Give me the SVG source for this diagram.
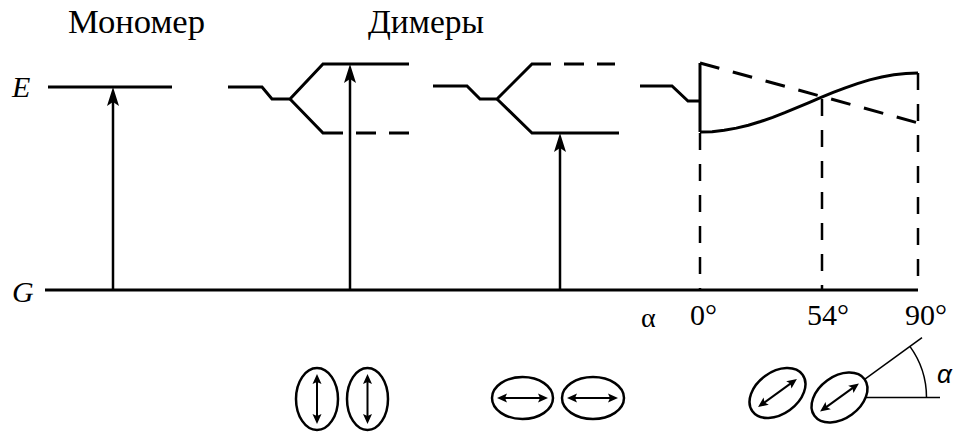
<svg xmlns="http://www.w3.org/2000/svg" width="955" height="434" viewBox="0 0 955 434">
<style>
.lv{fill:none;stroke:#000;stroke-width:3;stroke-linecap:butt;stroke-linejoin:miter}
.dv{fill:none;stroke:#000;stroke-width:2.5;stroke-dasharray:17 14}
.dd{fill:none;stroke:#000;stroke-width:3;stroke-dasharray:20 14}
.ar{stroke:#000;stroke-width:2.5;marker-end:url(#ah)}
.t{font-family:"Liberation Serif","DejaVu Serif","Times New Roman",serif;fill:#000}
.el{fill:none;stroke:#000;stroke-width:2.5}
.da{stroke:#000;stroke-width:2;marker-start:url(#sh);marker-end:url(#sh)}
.thin{fill:none;stroke:#000;stroke-width:1.5}
</style>
<defs>
<marker id="ah" viewBox="-20 -7 20 14" refX="-10" refY="0" markerWidth="20" markerHeight="14" markerUnits="userSpaceOnUse" orient="auto"><path d="M0,0 L-19,-6 L-15,0 L-19,6Z" fill="#000"/></marker>
<marker id="sh" viewBox="-11 -5 11 10" refX="-5" refY="0" markerWidth="11" markerHeight="10" markerUnits="userSpaceOnUse" orient="auto-start-reverse"><path d="M0,0 L-10,-4.5 L-8,0 L-10,4.5Z" fill="#000"/></marker>
</defs>

<g id="labels">
<text class="t" x="68" y="33" font-size="33" textLength="137" lengthAdjust="spacingAndGlyphs">Мономер</text>
<text class="t" x="368" y="33" font-size="33" textLength="116" lengthAdjust="spacingAndGlyphs">Димеры</text>
<text class="t" x="12" y="97" font-size="30" font-style="italic">E</text>
<text class="t" x="12" y="302" font-size="30" font-style="italic">G</text>
<text class="t" x="641" y="327" font-size="28">α</text>
<text class="t" x="690" y="325" font-size="30">0°</text>
<text class="t" x="807" y="325" font-size="30">54°</text>
<text class="t" x="905" y="325" font-size="30">90°</text>
</g>

<g id="ground">
<path class="lv" d="M45,290 H918"/>
</g>

<g id="monomer">
<path class="lv" d="M48,87 H172"/>
</g>

<g id="dimer-parallel">
<path class="lv" d="M228,87 H262 L272,99 H290 L323,64 H409"/>
<path class="lv" d="M290,99 L323,133 H343 M356,133 H376 M389,133 H409"/>
</g>

<g id="dimer-inline">
<path class="lv" d="M433,86 H467 L480,99 H497 L532,64 H551 M564,64 H584 M597,64 H615"/>
<path class="lv" d="M497,99 L532,133 H619"/>
</g>

<g id="dimer-oblique">
<path class="lv" d="M640,86 H672 L688,101 H700"/>
<path class="lv" d="M700,63 V132"/>
<path class="dd" d="M700,63 L922,124"/>
<path class="lv" stroke-linejoin="round" d="M700,132.1 L712.1,131.65 L724.2,130.3 L736.3,128.14 L748.4,125.2 L760.6,121.54 L772.7,117.3 L784.8,112.66 L796.9,107.7 L809,102.55 L821.1,97.4 L833.2,92.44 L845.3,87.8 L857.4,83.56 L869.6,79.9 L881.7,76.96 L893.8,74.8 L905.9,73.45 L918,73"/>
<path class="dv" d="M700,133 V290"/>
<path class="dv" d="M822,99 V290"/>
<path class="dv" d="M918,73 V290"/>
</g>

<g id="connectors">
<line class="ar" x1="113" y1="290" x2="113" y2="97"/>
<line class="ar" x1="350" y1="290" x2="350" y2="74"/>
<line class="ar" x1="560" y1="290" x2="560" y2="143"/>
</g>

<g id="pair-parallel">
<ellipse class="el" cx="317" cy="399" rx="21" ry="31"/>
<line class="da" x1="317" y1="379" x2="317" y2="419"/>
<ellipse class="el" cx="367.5" cy="399" rx="20.5" ry="31"/>
<line class="da" x1="367.5" y1="379" x2="367.5" y2="419"/>
</g>

<g id="pair-inline">
<ellipse class="el" cx="522.5" cy="398" rx="30.5" ry="21"/>
<line class="da" x1="502" y1="398" x2="543" y2="398"/>
<ellipse class="el" cx="593" cy="398" rx="31" ry="21"/>
<line class="da" x1="572" y1="398" x2="613" y2="398"/>
</g>

<g id="pair-oblique">
<g transform="translate(777.5,393) rotate(-36)">
<ellipse class="el" cx="0" cy="0" rx="31" ry="21"/>
<line class="da" x1="-19" y1="0" x2="19" y2="0"/>
</g>
<g transform="translate(839.5,397.5) rotate(-36)">
<ellipse class="el" cx="0" cy="0" rx="31" ry="21"/>
<line class="da" x1="-19" y1="0" x2="19" y2="0"/>
<line class="thin" x1="31" y1="0" x2="102" y2="0"/>
</g>
<path class="thin" d="M866,397.5 H940"/>
<path class="thin" d="M926.5,397.5 A87,87 0 0 0 909.9,346.4"/>
<text x="937" y="383" font-family="Liberation Sans, Arial, sans-serif" font-style="italic" font-size="26">α</text>
</g>
</svg>
